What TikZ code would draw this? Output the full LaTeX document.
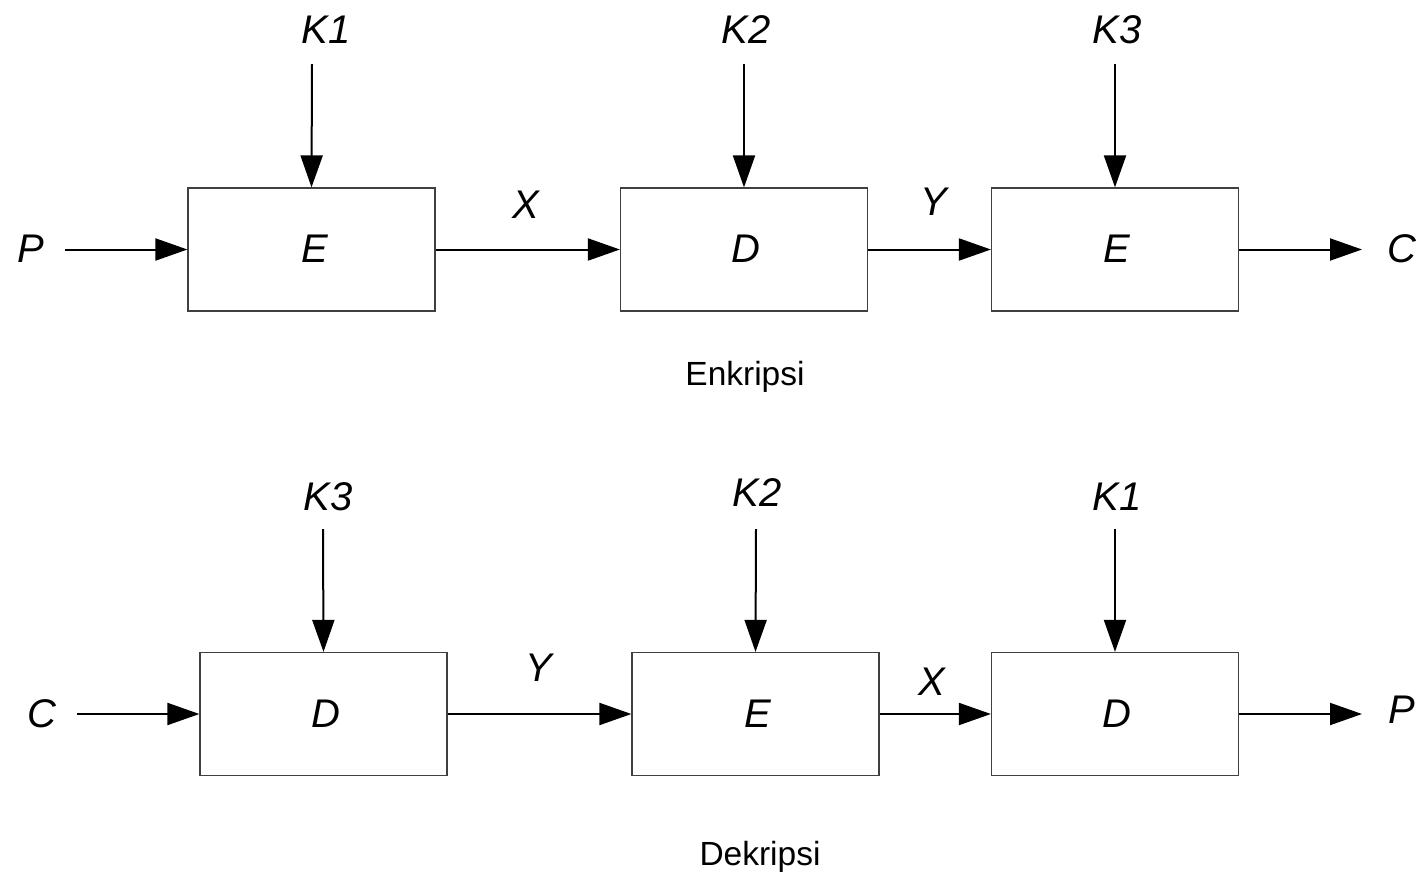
\documentclass[tikz,border=0pt]{standalone}
\usepackage{fontspec}
\setmainfont{Liberation Sans}
\usetikzlibrary{arrows.meta}
\begin{document}
\begin{tikzpicture}[x=1pt,y=-1pt,
  block/.style={draw=black!75, line width=1.2pt, minimum width=247pt, minimum height=123pt,
    inner sep=0pt, font=\fontsize{40}{48}\selectfont\itshape},
  sym/.style={anchor=base, inner sep=0pt, font=\fontsize{40}{48}\selectfont\itshape},
  caption/.style={anchor=base, inner sep=0pt, font=\fontsize{33.5}{40}\selectfont},
  flow/.style={line width=2pt, -{Triangle[length=32pt,width=22pt]}}]
\useasboundingbox (0,0) rectangle (1425,873);

% ---- Enkripsi: E(K1) -> D(K2) -> E(K3)
\node[block] (e1) at (311.5,249.5) {};
\node[block] (d2) at (744,249.5) {};
\node[block] (e3) at (1115,249.5) {};
\node[sym] (e1t) at (315,262) {E};
\node[sym] (d2t) at (746,262) {D};
\node[sym] (e3t) at (1117,262) {E};

\node[sym] (k1a) at (326,43) {K1};
\node[sym] (k2a) at (746,43) {K2};
\node[sym] (k3a) at (1117,43) {K3};
\node[sym] (pa) at (31,262) {P};
\node[sym] (ca) at (1402,262) {C};
\node[sym] (xa) at (526,218) {X};
\node[sym] (ya) at (934,215) {Y};
\node[caption] (enk) at (745,385) {Enkripsi};

\coordinate (k1s) at (312,64);
\coordinate (k2s) at (744,64);
\coordinate (k3s) at (1115,64);
\coordinate (pin) at (65,249.5);
\coordinate (cout) at (1362,249.5);

\draw[flow] (k1s) -- (e1.north);
\draw[flow] (k2s) -- (d2.north);
\draw[flow] (k3s) -- (e3.north);
\draw[flow] (pin) -- (e1.west);
\draw[flow] (e1.east) -- (d2.west);
\draw[flow] (d2.east) -- (e3.west);
\draw[flow] (e3.east) -- (cout);

% ---- Dekripsi: D(K3) -> E(K2) -> D(K1)
\node[block] (d4) at (323.5,714) {};
\node[block] (e5) at (755.5,714) {};
\node[block] (d6) at (1115,714) {};
\node[sym] (d4t) at (326,727) {D};
\node[sym] (e5t) at (758,727) {E};
\node[sym] (d6t) at (1117,727) {D};

\node[sym] (k3b) at (328,510) {K3};
\node[sym] (k2b) at (757,506) {K2};
\node[sym] (k1b) at (1117,510) {K1};
\node[sym] (cb) at (42,727) {C};
\node[sym] (pb) at (1402,723) {P};
\node[sym] (yb) at (539,681) {Y};
\node[sym] (xb) at (932,695) {X};
\node[caption] (dek) at (760,865) {Dekripsi};

\coordinate (k3s2) at (323,529);
\coordinate (k2s2) at (756,529);
\coordinate (k1s2) at (1115,529);
\coordinate (cin) at (77,714);
\coordinate (pout) at (1362,714);

\draw[flow] (k3s2) -- (d4.north);
\draw[flow] (k2s2) -- (e5.north);
\draw[flow] (k1s2) -- (d6.north);
\draw[flow] (cin) -- (d4.west);
\draw[flow] (d4.east) -- (e5.west);
\draw[flow] (e5.east) -- (d6.west);
\draw[flow] (d6.east) -- (pout);
\end{tikzpicture}
\end{document}
